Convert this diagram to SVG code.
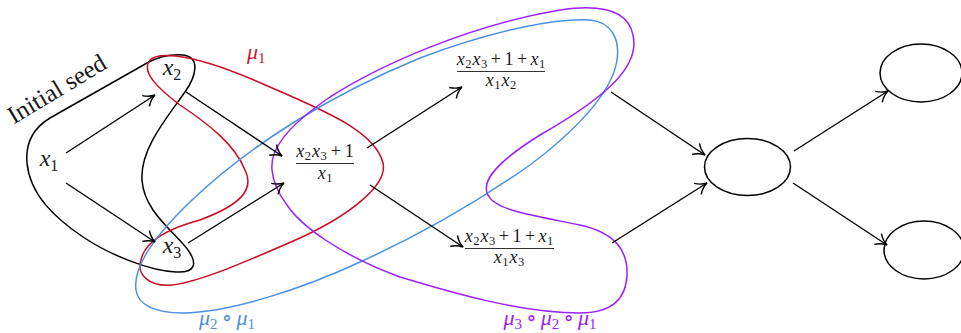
<svg xmlns="http://www.w3.org/2000/svg" width="961" height="333" viewBox="0 0 961 333">
<style>
.t{font-family:"Liberation Serif","Times New Roman",Tinos,"Noto Serif","DejaVu Serif",serif;fill:#1a1a1a}
.i{font-style:italic}
.big{font-size:24px}
.sb{font-size:16px}
.fr{font-size:18px}
.fs{font-size:12.5px}
.ar{fill:none;stroke:#000;stroke-width:1.4;marker-end:url(#ah)}
.nd{fill:none;stroke:#000;stroke-width:1.5}
.cv{fill:none;stroke-width:1.5}
.fl{stroke:#333;stroke-width:1}
</style>
<defs>
<marker id="ah" viewBox="-13 -8 15 16" markerWidth="15" markerHeight="16" refX="0" refY="0" orient="auto" markerUnits="userSpaceOnUse">
<path d="M -11,-6.5 C -7.5,-3 -3,-0.7 0,0 C -3,0.7 -7.5,3 -11,6.5" fill="none" stroke="#000" stroke-width="1.4"/>
</marker>
</defs>

<g id="regions">
<path id="seed-curve" class="cv" stroke="#000" d="M 183,55 C 200,57 197,75 185,92 C 165,120 140,150 142,180 C 144,212 175,232 188,250 C 198,264 195,273 176,272 C 150,271 110,255 83,237 C 55,218 30,195 27,163 C 25,140 35,127 50,118 L 147,63 C 158,57 170,54 183,55 Z"/>
<path id="mu1-curve" class="cv" stroke="#cc0a26" d="M 150,60 C 160,50 200,56 263,84 C 320,109 375,130 383,163 C 388,185 350,215 300,238 C 250,260 200,282 172,285 C 150,287 136,275 141,260 C 145,240 170,228 200,220 C 240,205 255,190 245,170 C 235,145 210,125 180,105 C 160,90 140,72 150,60 Z"/>
<path id="mu21-curve" class="cv" stroke="#4a90e2" d="M 136,290 C 133,270 150,240 192,200 C 250,145 330,95 420,58 C 500,28 560,18 590,20 C 612,22 620,40 617,60 C 612,95 570,135 530,165 C 480,200 420,235 360,262 C 300,290 230,312 183,313 C 155,313 138,305 136,290 Z"/>
<path id="mu321-curve" class="cv" stroke="#9b22ff" d="M 272,170 C 270,150 285,128 330,97 C 380,65 470,25 560,10 C 600,4 628,10 633,35 C 640,65 610,95 540,135 C 500,160 480,180 488,195 C 495,210 530,215 580,225 C 615,233 628,250 627,275 C 626,300 610,313 580,313 C 520,313 450,292 400,277 C 340,255 300,225 287,205 C 278,193 273,182 272,170 Z"/>
<text class="t" font-size="25" text-anchor="middle" x="61" y="96" transform="rotate(-31 61 96)">Initial seed</text>
<text class="t i" font-size="22" x="247" y="59" style="fill:#cc1535">μ<tspan font-size="15" font-style="normal" dy="4">1</tspan></text>
<text class="t i" font-size="22" x="227" y="325" text-anchor="middle" style="fill:#4a90e2">μ<tspan font-size="15" font-style="normal" dy="4">2</tspan><tspan font-style="normal" dy="-4" dx="4">∘</tspan><tspan dx="4">μ</tspan><tspan font-size="15" font-style="normal" dy="4">1</tspan></text>
<text class="t i" font-size="22" x="550" y="325" text-anchor="middle" style="fill:#9b22ff">μ<tspan font-size="15" font-style="normal" dy="4">3</tspan><tspan font-style="normal" dy="-4" dx="4">∘</tspan><tspan dx="4">μ</tspan><tspan font-size="15" font-style="normal" dy="4">2</tspan><tspan font-style="normal" dy="-4" dx="4">∘</tspan><tspan dx="4">μ</tspan><tspan font-size="15" font-style="normal" dy="4">1</tspan></text>
</g>

<g id="connectors">
<line class="ar" x1="66" y1="153" x2="155" y2="95"/>
<line class="ar" x1="66" y1="183" x2="155" y2="242"/>
<line class="ar" x1="186" y1="92" x2="282" y2="156"/>
<line class="ar" x1="188" y1="243" x2="284" y2="183"/>
<line class="ar" x1="367" y1="148" x2="462" y2="87"/>
<line class="ar" x1="370" y1="185" x2="463" y2="247"/>
<line class="ar" x1="611" y1="92" x2="705" y2="155"/>
<line class="ar" x1="612" y1="243" x2="707" y2="183"/>
<line class="ar" x1="794" y1="151" x2="888" y2="91"/>
<line class="ar" x1="793" y1="183" x2="887" y2="245"/>
</g>

<g id="x1">
<text class="t big i" x="49" y="166" text-anchor="middle">x<tspan class="sb" font-style="normal" dy="5">1</tspan></text>
</g>
<g id="x2">
<text class="t big i" x="172" y="75" text-anchor="middle">x<tspan class="sb" font-style="normal" dy="5">2</tspan></text>
</g>
<g id="x3">
<text class="t big i" x="172" y="253" text-anchor="middle">x<tspan class="sb" font-style="normal" dy="5">3</tspan></text>
</g>

<g id="frac1">
<text class="t fr" x="325" y="157" text-anchor="middle"><tspan class="i">x</tspan><tspan class="fs" dx="0.5" dy="2.5">2</tspan><tspan class="i" dx="1" dy="-2.5">x</tspan><tspan class="fs" dx="0.5" dy="2.5">3</tspan><tspan dx="4" dy="-2.5">+</tspan><tspan dx="4">1</tspan></text>
<line class="fl" x1="296" y1="163.5" x2="354" y2="163.5"/>
<text class="t fr" x="325" y="179" text-anchor="middle"><tspan class="i">x</tspan><tspan class="fs" dx="0.5" dy="2.5">1</tspan></text>
</g>

<g id="frac2">
<text class="t fr" x="501" y="65" text-anchor="middle"><tspan class="i">x</tspan><tspan class="fs" dx="0.5" dy="2.5">2</tspan><tspan class="i" dx="1" dy="-2.5">x</tspan><tspan class="fs" dx="0.5" dy="2.5">3</tspan><tspan dx="3.5" dy="-2.5">+</tspan><tspan dx="3.5">1</tspan><tspan dx="3.5">+</tspan><tspan class="i" dx="3.5">x</tspan><tspan class="fs" dx="0.5" dy="2.5">1</tspan></text>
<line class="fl" x1="457" y1="71.5" x2="545" y2="71.5"/>
<text class="t fr" x="501" y="86" text-anchor="middle"><tspan class="i">x</tspan><tspan class="fs" dx="0.5" dy="2.5">1</tspan><tspan class="i" dx="1" dy="-2.5">x</tspan><tspan class="fs" dx="0.5" dy="2.5">2</tspan></text>
</g>

<g id="frac3">
<text class="t fr" x="509" y="242" text-anchor="middle"><tspan class="i">x</tspan><tspan class="fs" dx="0.5" dy="2.5">2</tspan><tspan class="i" dx="1" dy="-2.5">x</tspan><tspan class="fs" dx="0.5" dy="2.5">3</tspan><tspan dx="3.5" dy="-2.5">+</tspan><tspan dx="3.5">1</tspan><tspan dx="3.5">+</tspan><tspan class="i" dx="3.5">x</tspan><tspan class="fs" dx="0.5" dy="2.5">1</tspan></text>
<line class="fl" x1="465" y1="248.5" x2="554" y2="248.5"/>
<text class="t fr" x="509" y="263" text-anchor="middle"><tspan class="i">x</tspan><tspan class="fs" dx="0.5" dy="2.5">1</tspan><tspan class="i" dx="1" dy="-2.5">x</tspan><tspan class="fs" dx="0.5" dy="2.5">3</tspan></text>
</g>

<g id="center-node"><ellipse class="nd" cx="747.5" cy="167" rx="43" ry="28.5"/></g>
<g id="top-right-node"><ellipse class="nd" cx="921" cy="73" rx="41" ry="29"/></g>
<g id="bottom-right-node"><ellipse class="nd" cx="924" cy="250" rx="40" ry="29"/></g>
</svg>
